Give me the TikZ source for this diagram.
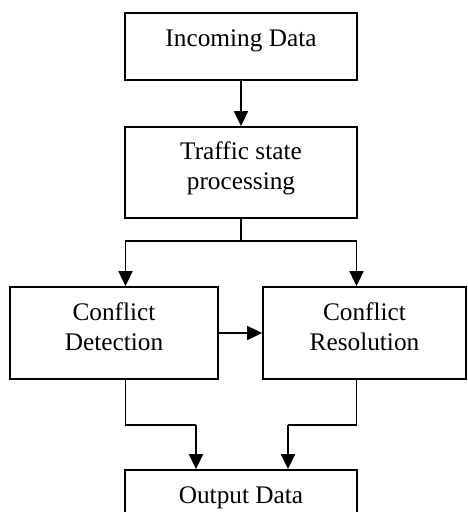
\documentclass[tikz,border=0pt]{standalone}
\usepackage{fontspec}
\setmainfont{Liberation Serif}
\usetikzlibrary{arrows.meta}
\begin{document}
\begin{tikzpicture}[x=1pt,y=-1pt,
  box/.style={draw, line width=1.8pt, inner sep=0pt},
  txt/.style={align=center, inner sep=0pt, font=\fontsize{25.3}{30}\selectfont},
  ln/.style={line width=1.8pt},
  arr/.style={line width=1.8pt, -{Triangle[length=15pt,width=14pt]}}]
\useasboundingbox (0,0) rectangle (468,512);
\clip (0,0) rectangle (468,512);
% boxes
\node[box, minimum width=232pt, minimum height=67pt] (inc) at (241,46.5) {};
\node[box, minimum width=232pt, minimum height=91pt] (traf) at (241,172.5) {};
\node[box, minimum width=208pt, minimum height=92pt] (det) at (114,333) {};
\node[box, minimum width=203pt, minimum height=92pt] (res) at (364.5,333) {};
\node[box, minimum width=232pt, minimum height=52pt] (out) at (241,496) {};
% texts
\node[txt] (incT) at (241,41) {Incoming Data};
\node[txt] (trafT) at (241,168.3) {Traffic state\\processing};
\node[txt] (detT) at (114,327) {Conflict\\Detection};
\node[txt] (resT) at (364.5,327) {Conflict\\Resolution};
\node[txt] (outT) at (241,497.6) {Output Data};
% connectors
\coordinate (j) at (241,241);
\coordinate (lb) at (125.5,425);
\coordinate (rb) at (356.5,425);
\coordinate (la) at (196,425);
\coordinate (ra) at (288,425);
\draw[arr] (inc.south) -- (traf.north);
\draw[ln] (traf.south) -- (j);
\draw[arr] (j) -| (det.north -| lb);
\draw[arr] (j) -| (res.north -| rb);
\draw[arr] (det.east) -- (res.west);
\draw[ln] (lb |- det.south) -- (lb) -- (la);
\draw[arr] (la) -- (la |- out.north);
\draw[ln] (rb |- res.south) -- (rb) -- (ra);
\draw[arr] (ra) -- (ra |- out.north);
\end{tikzpicture}
\end{document}
